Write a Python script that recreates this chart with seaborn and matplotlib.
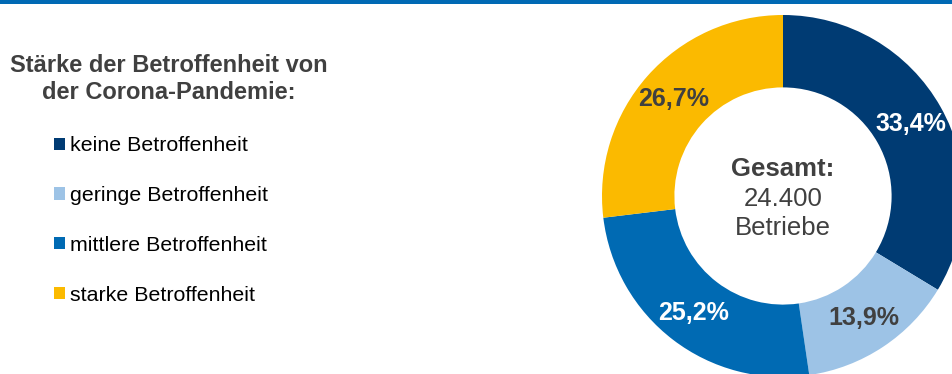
import matplotlib
matplotlib.use("Agg")
import matplotlib.pyplot as plt
import seaborn as sns
from matplotlib.patches import Rectangle

# Data
categories = ["keine Betroffenheit", "geringe Betroffenheit",
              "mittlere Betroffenheit", "starke Betroffenheit"]
values = [33.4, 13.9, 25.2, 26.7]
label_colors = ["white", "#404040", "white", "#404040"]
slice_colors = ["#003B73", "#9DC3E6", "#006AB3", "#FBBA00"]
legend_title = "Stärke der Betroffenheit von\nder Corona-Pandemie:"
center_bold = "Gesamt:"
center_rest = ["24.400", "Betriebe"]

sns.set_style("white")
plt.rcParams["font.family"] = ["Liberation Sans", "DejaVu Sans"]

W, H = 953, 374
fig = plt.figure(figsize=(W / 100, H / 100), dpi=100)

# pie axes: center (783, 196 from top), radius 181 px
cx, cy, R = 783, H - 196, 181
ax = fig.add_axes([(cx - R) / W, (cy - R) / H, 2 * R / W, 2 * R / H])

palette = sns.color_palette(slice_colors)
wedges, _, autotexts = ax.pie(
    values, colors=palette, startangle=90, counterclock=False, radius=1.0,
    wedgeprops=dict(width=0.4, linewidth=0),
    autopct=lambda p: "", pctdistance=0.81,
)
ax.set_xlim(-1, 1)
ax.set_ylim(-1, 1)
ax.set_aspect("equal")
ax.axis("off")

for t, v, c in zip(autotexts, values, label_colors):
    t.set_text(f"{v:.1f}%".replace(".", ","))
    t.set_color(c)
    t.set_fontsize(18)
    t.set_fontweight("bold")

# center text
ax.text(0, (196 - 169) / R, center_bold, ha="center", va="center",
        fontsize=18.5, fontweight="bold", color="#404040")
ax.text(0, (196 - 199) / R, center_rest[0], ha="center", va="center",
        fontsize=18.5, color="#404040")
ax.text(0, (196 - 228) / R, center_rest[1], ha="center", va="center",
        fontsize=18.5, color="#404040")

# legend title
fig.text(169 / W, (H - 79) / H, legend_title, ha="center", va="center",
         fontsize=17, fontweight="bold", color="#404040", linespacing=1.25,
         multialignment="center")

leg = fig.legend(wedges, categories, loc="center left",
                 bbox_to_anchor=(54 / W, (H - 220.5) / H),
                 frameon=False, fontsize=15.4, labelspacing=1.44,
                 handlelength=0.5, handleheight=0.5, handletextpad=0.25,
                 borderpad=0, borderaxespad=0)
for t in leg.get_texts():
    t.set_color("#000000")

# top blue rule
fig.add_artist(Rectangle((0, 1 - 3.5 / H), 1, 3.5 / H, transform=fig.transFigure,
                         facecolor="#0069B4", edgecolor="none", zorder=10))

fig.savefig("out.png", dpi=100)
